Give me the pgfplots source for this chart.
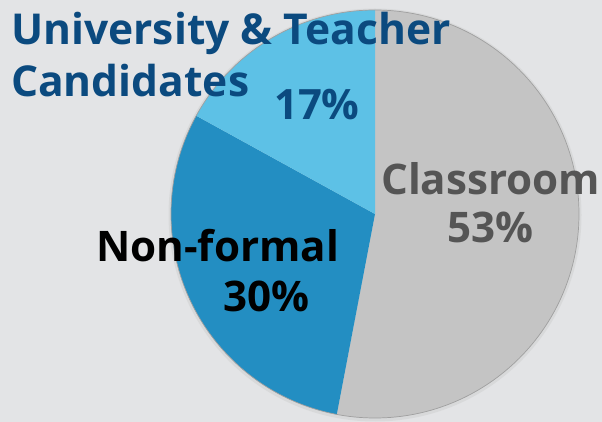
\documentclass[border=0pt]{standalone}
\usepackage{fontspec}
\setmainfont{Open Sans}
\usepackage{pgfplots}
\pgfplotsset{compat=1.18}
\definecolor{bgc}{HTML}{E3E4E6}
\definecolor{cgrey}{HTML}{C4C4C4}
\definecolor{cnonf}{HTML}{238EC2}
\definecolor{cuni}{HTML}{5DC1E6}
\definecolor{ttlblue}{HTML}{0B4A7F}
\definecolor{cltext}{HTML}{555555}
\begin{document}
\begin{tikzpicture}
\begin{axis}[hide axis, scale only axis, width=602bp, height=422bp,
  xmin=0, xmax=602, ymin=0, ymax=422, clip=false]
\fill[bgc] (0,0) rectangle (602,422);
% shadow / outline
\fill[gray!45, opacity=0.35] (375,207) circle[radius=206.5];
% Classroom 53% : 0 -> 190.8 deg (clockwise from top)
\addplot[fill=cgrey, draw=none, domain=0:190.8, samples=150, variable=\t]
  ({375+204*sin(t)}, {208+204*cos(t)}) -- (375,208) -- cycle;
% Non-formal 30% : 190.8 -> 298.8
\addplot[fill=cnonf, draw=none, domain=190.8:298.8, samples=100, variable=\t]
  ({375+204*sin(t)}, {208+204*cos(t)}) -- (375,208) -- cycle;
% University & Teacher Candidates 17% : 298.8 -> 360
\addplot[fill=cuni, draw=none, domain=298.8:360, samples=60, variable=\t]
  ({375+204*sin(t)}, {208+204*cos(t)}) -- (375,208) -- cycle;
\draw[gray!75, line width=0.7pt] (375,208) circle[radius=204];
% labels
\node[anchor=base west, inner sep=0pt, text=ttlblue, font=\fontsize{42.7}{42.7}\selectfont\bfseries] at (11,377) {University \& Teacher};
\node[anchor=base west, inner sep=0pt, text=ttlblue, font=\fontsize{42.7}{42.7}\selectfont\bfseries] at (11,325) {Candidates};
\node[anchor=base west, inner sep=0pt, text=ttlblue, font=\fontsize{42}{42}\selectfont\bfseries] at (274,302) {17\%};
\node[anchor=base west, inner sep=0pt, text=cltext, font=\fontsize{42.3}{42.3}\selectfont\bfseries] at (381,227) {Classroom};
\node[anchor=base west, inner sep=0pt, text=cltext, font=\fontsize{42.3}{42.3}\selectfont\bfseries] at (447,179) {53\%};
\node[anchor=base west, inner sep=0pt, text=black, font=\fontsize{42.3}{42.3}\selectfont\bfseries] at (96,160) {Non-formal};
\node[anchor=base west, inner sep=0pt, text=black, font=\fontsize{42.3}{42.3}\selectfont\bfseries] at (223,110) {30\%};
\end{axis}
\end{tikzpicture}
\end{document}
